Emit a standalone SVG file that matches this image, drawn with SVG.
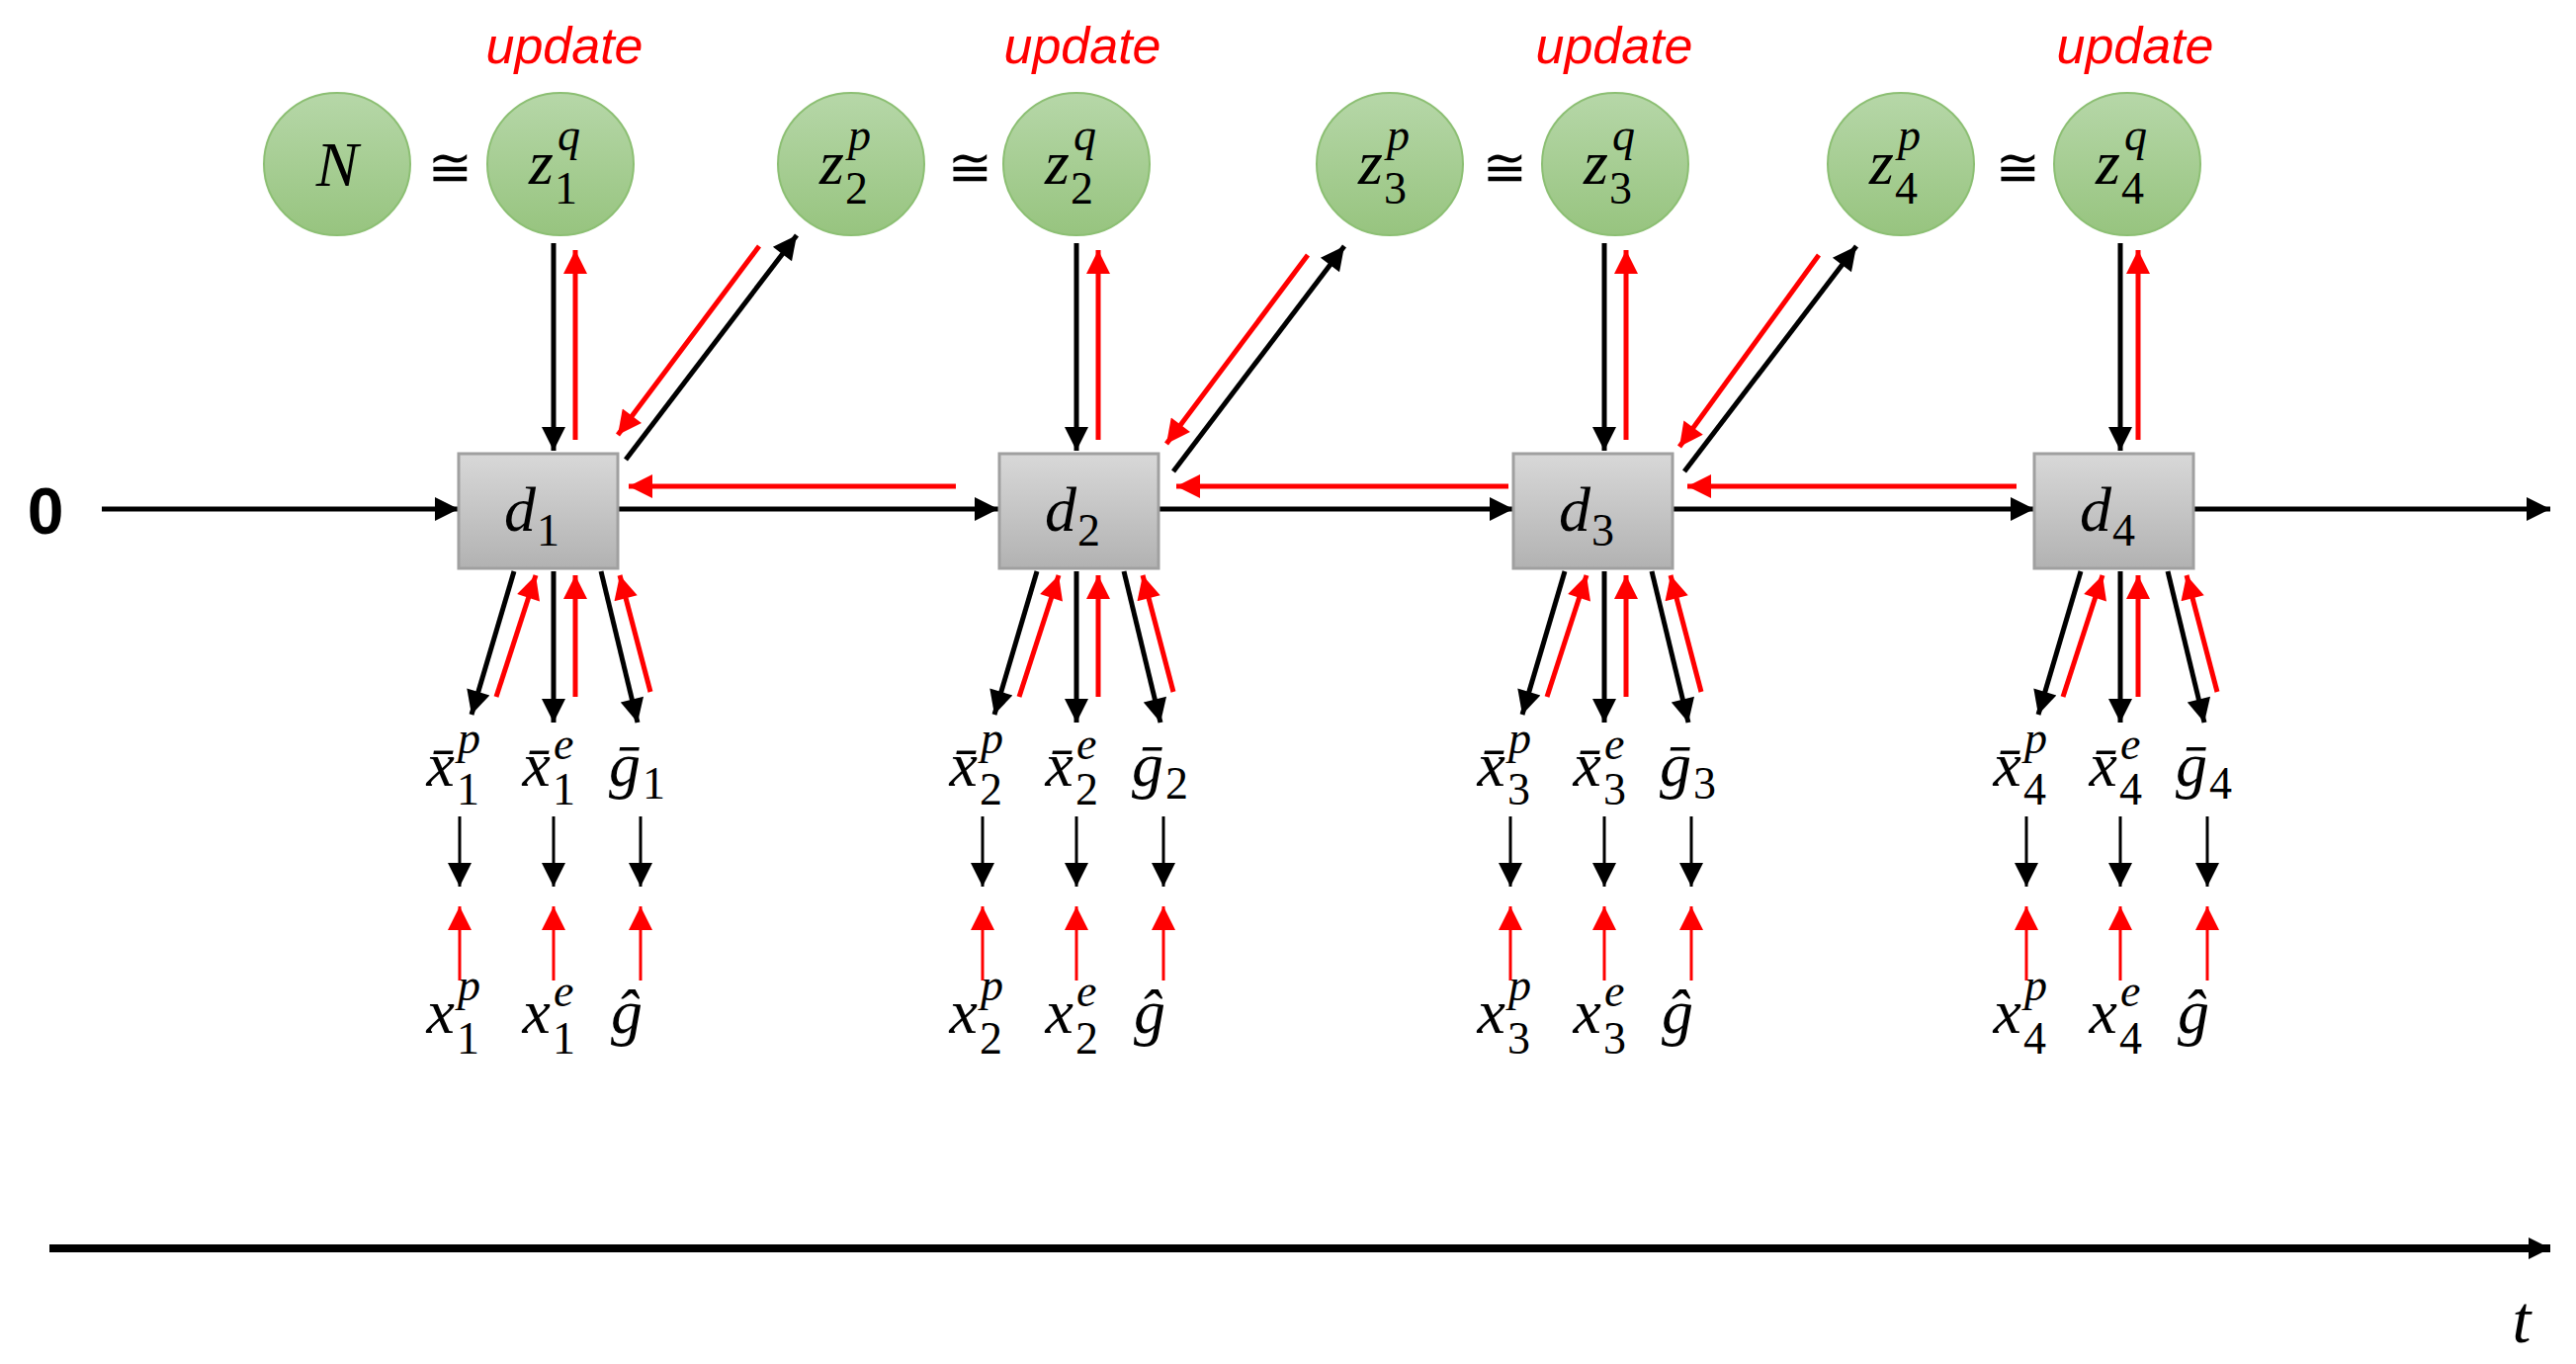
<svg xmlns="http://www.w3.org/2000/svg" width="2606" height="1380" viewBox="0 0 2606 1380">
<style>
.k{stroke:#000;stroke-width:5;fill:none}
.r{stroke:#f00;stroke-width:5;fill:none}
.ks{stroke:#000;stroke-width:3;fill:none}
.rs{stroke:#f00;stroke-width:3;fill:none}
.m{font-family:"Liberation Serif","DejaVu Serif",serif;font-style:italic;font-size:64px;fill:#000}
.s{font-family:"Liberation Serif","DejaVu Serif",serif;font-size:46px;fill:#000}
.si{font-family:"Liberation Serif","DejaVu Serif",serif;font-style:italic;font-size:46px;fill:#000}
.up{font-family:"Liberation Sans",Arial,sans-serif;font-style:italic;font-size:52px;fill:#f00}
.c{fill:url(#gc);stroke:#8cbf73;stroke-width:2}
.b{fill:url(#gb);stroke:#a0a0a0;stroke-width:3}
</style>
<defs>
<linearGradient id="gc" x1="0" y1="0" x2="0" y2="1"><stop offset="0" stop-color="#b6d7a8"/><stop offset="1" stop-color="#97c47f"/></linearGradient>
<linearGradient id="gb" x1="0" y1="0" x2="0" y2="1"><stop offset="0" stop-color="#d8d8d8"/><stop offset="1" stop-color="#b2b2b2"/></linearGradient>
<marker id="ak" viewBox="0 0 10 10" refX="10" refY="5" markerWidth="26" markerHeight="24" markerUnits="userSpaceOnUse" orient="auto"><path d="M0,0L10,5L0,10z" fill="#000"/></marker>
<marker id="ar" viewBox="0 0 10 10" refX="10" refY="5" markerWidth="26" markerHeight="24" markerUnits="userSpaceOnUse" orient="auto"><path d="M0,0L10,5L0,10z" fill="#f00"/></marker>
<marker id="aT" viewBox="0 0 10 10" refX="10" refY="5" markerWidth="30" markerHeight="22" markerUnits="userSpaceOnUse" orient="auto"><path d="M0,0L10,5L0,10z" fill="#000"/></marker>
</defs>

<g id="connectors">
<line class="k" x1="103" y1="515" x2="464" y2="515" marker-end="url(#ak)"/>
<line class="k" x1="625" y1="515" x2="1010" y2="515" marker-end="url(#ak)"/>
<line class="k" x1="1172" y1="515" x2="1531" y2="515" marker-end="url(#ak)"/>
<line class="k" x1="1692" y1="515" x2="2058" y2="515" marker-end="url(#ak)"/>
<line class="k" x1="2217" y1="515" x2="2580" y2="515" marker-end="url(#ak)"/>
<line class="r" x1="967" y1="492" x2="636" y2="492" marker-end="url(#ar)"/>
<line class="r" x1="1526" y1="492" x2="1190" y2="492" marker-end="url(#ar)"/>
<line class="r" x1="2040" y1="492" x2="1707" y2="492" marker-end="url(#ar)"/>
<line class="k" x1="633" y1="465" x2="806" y2="238" marker-end="url(#ak)"/>
<line class="r" x1="768" y1="249" x2="625" y2="440" marker-end="url(#ar)"/>
<line class="k" x1="1187" y1="477" x2="1360" y2="249" marker-end="url(#ak)"/>
<line class="r" x1="1323" y1="258" x2="1180" y2="449" marker-end="url(#ar)"/>
<line class="k" x1="1704" y1="477" x2="1878" y2="249" marker-end="url(#ak)"/>
<line class="r" x1="1840" y1="258" x2="1699" y2="452" marker-end="url(#ar)"/>
<line class="k" style="stroke-width:8" x1="50" y1="1263" x2="2580" y2="1263" marker-end="url(#aT)"/>
<g id="fans">
<g transform="translate(560,0)">
<line class="k" x1="0" y1="246" x2="0" y2="456" marker-end="url(#ak)"/><line class="r" x1="22" y1="445" x2="22" y2="253" marker-end="url(#ar)"/>
<line class="k" x1="-40" y1="578" x2="-83" y2="723" marker-end="url(#ak)"/><line class="r" x1="-58" y1="705" x2="-18" y2="582" marker-end="url(#ar)"/>
<line class="k" x1="0" y1="578" x2="0" y2="731" marker-end="url(#ak)"/><line class="r" x1="22" y1="705" x2="22" y2="582" marker-end="url(#ar)"/>
<line class="k" x1="48" y1="578" x2="85" y2="731" marker-end="url(#ak)"/><line class="r" x1="98" y1="700" x2="67" y2="582" marker-end="url(#ar)"/>
<line class="ks" x1="-95" y1="826" x2="-95" y2="897" marker-end="url(#ak)"/><line class="ks" x1="0" y1="826" x2="0" y2="897" marker-end="url(#ak)"/><line class="ks" x1="88" y1="826" x2="88" y2="897" marker-end="url(#ak)"/>
<line class="rs" x1="-95" y1="992" x2="-95" y2="917" marker-end="url(#ar)"/><line class="rs" x1="0" y1="992" x2="0" y2="917" marker-end="url(#ar)"/><line class="rs" x1="88" y1="992" x2="88" y2="917" marker-end="url(#ar)"/>
</g>
<g transform="translate(1089,0)">
<line class="k" x1="0" y1="246" x2="0" y2="456" marker-end="url(#ak)"/><line class="r" x1="22" y1="445" x2="22" y2="253" marker-end="url(#ar)"/>
<line class="k" x1="-40" y1="578" x2="-83" y2="723" marker-end="url(#ak)"/><line class="r" x1="-58" y1="705" x2="-18" y2="582" marker-end="url(#ar)"/>
<line class="k" x1="0" y1="578" x2="0" y2="731" marker-end="url(#ak)"/><line class="r" x1="22" y1="705" x2="22" y2="582" marker-end="url(#ar)"/>
<line class="k" x1="48" y1="578" x2="85" y2="731" marker-end="url(#ak)"/><line class="r" x1="98" y1="700" x2="67" y2="582" marker-end="url(#ar)"/>
<line class="ks" x1="-95" y1="826" x2="-95" y2="897" marker-end="url(#ak)"/><line class="ks" x1="0" y1="826" x2="0" y2="897" marker-end="url(#ak)"/><line class="ks" x1="88" y1="826" x2="88" y2="897" marker-end="url(#ak)"/>
<line class="rs" x1="-95" y1="992" x2="-95" y2="917" marker-end="url(#ar)"/><line class="rs" x1="0" y1="992" x2="0" y2="917" marker-end="url(#ar)"/><line class="rs" x1="88" y1="992" x2="88" y2="917" marker-end="url(#ar)"/>
</g>
<g transform="translate(1623,0)">
<line class="k" x1="0" y1="246" x2="0" y2="456" marker-end="url(#ak)"/><line class="r" x1="22" y1="445" x2="22" y2="253" marker-end="url(#ar)"/>
<line class="k" x1="-40" y1="578" x2="-83" y2="723" marker-end="url(#ak)"/><line class="r" x1="-58" y1="705" x2="-18" y2="582" marker-end="url(#ar)"/>
<line class="k" x1="0" y1="578" x2="0" y2="731" marker-end="url(#ak)"/><line class="r" x1="22" y1="705" x2="22" y2="582" marker-end="url(#ar)"/>
<line class="k" x1="48" y1="578" x2="85" y2="731" marker-end="url(#ak)"/><line class="r" x1="98" y1="700" x2="67" y2="582" marker-end="url(#ar)"/>
<line class="ks" x1="-95" y1="826" x2="-95" y2="897" marker-end="url(#ak)"/><line class="ks" x1="0" y1="826" x2="0" y2="897" marker-end="url(#ak)"/><line class="ks" x1="88" y1="826" x2="88" y2="897" marker-end="url(#ak)"/>
<line class="rs" x1="-95" y1="992" x2="-95" y2="917" marker-end="url(#ar)"/><line class="rs" x1="0" y1="992" x2="0" y2="917" marker-end="url(#ar)"/><line class="rs" x1="88" y1="992" x2="88" y2="917" marker-end="url(#ar)"/>
</g>
<g transform="translate(2145,0)">
<line class="k" x1="0" y1="246" x2="0" y2="456" marker-end="url(#ak)"/><line class="r" x1="18" y1="445" x2="18" y2="253" marker-end="url(#ar)"/>
<line class="k" x1="-40" y1="578" x2="-83" y2="723" marker-end="url(#ak)"/><line class="r" x1="-58" y1="705" x2="-18" y2="582" marker-end="url(#ar)"/>
<line class="k" x1="0" y1="578" x2="0" y2="731" marker-end="url(#ak)"/><line class="r" x1="18" y1="705" x2="18" y2="582" marker-end="url(#ar)"/>
<line class="k" x1="48" y1="578" x2="85" y2="731" marker-end="url(#ak)"/><line class="r" x1="98" y1="700" x2="67" y2="582" marker-end="url(#ar)"/>
<line class="ks" x1="-95" y1="826" x2="-95" y2="897" marker-end="url(#ak)"/><line class="ks" x1="0" y1="826" x2="0" y2="897" marker-end="url(#ak)"/><line class="ks" x1="88" y1="826" x2="88" y2="897" marker-end="url(#ak)"/>
<line class="rs" x1="-95" y1="992" x2="-95" y2="917" marker-end="url(#ar)"/><line class="rs" x1="0" y1="992" x2="0" y2="917" marker-end="url(#ar)"/><line class="rs" x1="88" y1="992" x2="88" y2="917" marker-end="url(#ar)"/>
</g>
</g>
</g>

<text x="46" y="540" text-anchor="middle" style="font-family:'Liberation Sans',Arial,sans-serif;font-weight:bold;font-size:66px">0</text>
<text x="2551" y="1358" text-anchor="middle" class="m" style="font-size:68px">t</text>

<g id="N"><ellipse class="c" cx="341" cy="166" rx="74" ry="72"/><text class="m" x="341" y="188" text-anchor="middle">N</text></g>
<g id="z1q"><ellipse class="c" cx="567" cy="166" rx="74" ry="72"/><text class="m" x="560" y="186" text-anchor="end">z</text><text class="si" x="564" y="152">q</text><text class="s" x="561" y="206">1</text></g>
<g id="z2p"><ellipse class="c" cx="861" cy="166" rx="74" ry="72"/><text class="m" x="854" y="186" text-anchor="end">z</text><text class="si" x="858" y="152">p</text><text class="s" x="855" y="206">2</text></g>
<g id="z2q"><ellipse class="c" cx="1089" cy="166" rx="74" ry="72"/><text class="m" x="1082" y="186" text-anchor="end">z</text><text class="si" x="1086" y="152">q</text><text class="s" x="1083" y="206">2</text></g>
<g id="z3p"><ellipse class="c" cx="1406" cy="166" rx="74" ry="72"/><text class="m" x="1399" y="186" text-anchor="end">z</text><text class="si" x="1403" y="152">p</text><text class="s" x="1400" y="206">3</text></g>
<g id="z3q"><ellipse class="c" cx="1634" cy="166" rx="74" ry="72"/><text class="m" x="1627" y="186" text-anchor="end">z</text><text class="si" x="1631" y="152">q</text><text class="s" x="1628" y="206">3</text></g>
<g id="z4p"><ellipse class="c" cx="1923" cy="166" rx="74" ry="72"/><text class="m" x="1916" y="186" text-anchor="end">z</text><text class="si" x="1920" y="152">p</text><text class="s" x="1917" y="206">4</text></g>
<g id="z4q"><ellipse class="c" cx="2152" cy="166" rx="74" ry="72"/><text class="m" x="2145" y="186" text-anchor="end">z</text><text class="si" x="2149" y="152">q</text><text class="s" x="2146" y="206">4</text></g>

<g id="cong" style="font-family:'DejaVu Sans',sans-serif;font-size:54px">
<text x="455" y="188" text-anchor="middle">≅</text><text x="981" y="188" text-anchor="middle">≅</text><text x="1522" y="188" text-anchor="middle">≅</text><text x="2041" y="188" text-anchor="middle">≅</text>
</g>
<g id="updates">
<text class="up" x="571" y="64" text-anchor="middle">update</text><text class="up" x="1095" y="64" text-anchor="middle">update</text><text class="up" x="1633" y="64" text-anchor="middle">update</text><text class="up" x="2160" y="64" text-anchor="middle">update</text>
</g>

<g id="d1"><rect class="b" x="464" y="459" width="161" height="116"/><text class="m" x="542" y="537" text-anchor="end">d</text><text class="s" x="543" y="552">1</text></g>
<g id="d2"><rect class="b" x="1011" y="459" width="161" height="116"/><text class="m" x="1089" y="537" text-anchor="end">d</text><text class="s" x="1090" y="552">2</text></g>
<g id="d3"><rect class="b" x="1531" y="459" width="161" height="116"/><text class="m" x="1609" y="537" text-anchor="end">d</text><text class="s" x="1610" y="552">3</text></g>
<g id="d4"><rect class="b" x="2058" y="459" width="161" height="116"/><text class="m" x="2136" y="537" text-anchor="end">d</text><text class="s" x="2137" y="552">4</text></g>

<g id="labels1" transform="translate(560,0)">
<text class="m" x="-100" y="795" text-anchor="end">x̄</text><text class="si" x="-97" y="762">p</text><text class="s" x="-98" y="814">1</text>
<text class="m" x="-3" y="795" text-anchor="end">x̄</text><text class="si" x="0" y="768">e</text><text class="s" x="-1" y="814">1</text>
<text class="m" x="88" y="795" text-anchor="end">ḡ</text><text class="s" x="90" y="808">1</text>
<text class="m" x="-100" y="1045" text-anchor="end">x</text><text class="si" x="-97" y="1012">p</text><text class="s" x="-98" y="1066">1</text>
<text class="m" x="-3" y="1045" text-anchor="end">x</text><text class="si" x="0" y="1018">e</text><text class="s" x="-1" y="1066">1</text>
<text class="m" x="74" y="1045" text-anchor="middle">ĝ</text>
</g>
<g id="labels2" transform="translate(1089,0)">
<text class="m" x="-100" y="795" text-anchor="end">x̄</text><text class="si" x="-97" y="762">p</text><text class="s" x="-98" y="814">2</text>
<text class="m" x="-3" y="795" text-anchor="end">x̄</text><text class="si" x="0" y="768">e</text><text class="s" x="-1" y="814">2</text>
<text class="m" x="88" y="795" text-anchor="end">ḡ</text><text class="s" x="90" y="808">2</text>
<text class="m" x="-100" y="1045" text-anchor="end">x</text><text class="si" x="-97" y="1012">p</text><text class="s" x="-98" y="1066">2</text>
<text class="m" x="-3" y="1045" text-anchor="end">x</text><text class="si" x="0" y="1018">e</text><text class="s" x="-1" y="1066">2</text>
<text class="m" x="74" y="1045" text-anchor="middle">ĝ</text>
</g>
<g id="labels3" transform="translate(1623,0)">
<text class="m" x="-100" y="795" text-anchor="end">x̄</text><text class="si" x="-97" y="762">p</text><text class="s" x="-98" y="814">3</text>
<text class="m" x="-3" y="795" text-anchor="end">x̄</text><text class="si" x="0" y="768">e</text><text class="s" x="-1" y="814">3</text>
<text class="m" x="88" y="795" text-anchor="end">ḡ</text><text class="s" x="90" y="808">3</text>
<text class="m" x="-100" y="1045" text-anchor="end">x</text><text class="si" x="-97" y="1012">p</text><text class="s" x="-98" y="1066">3</text>
<text class="m" x="-3" y="1045" text-anchor="end">x</text><text class="si" x="0" y="1018">e</text><text class="s" x="-1" y="1066">3</text>
<text class="m" x="74" y="1045" text-anchor="middle">ĝ</text>
</g>
<g id="labels4" transform="translate(2145,0)">
<text class="m" x="-100" y="795" text-anchor="end">x̄</text><text class="si" x="-97" y="762">p</text><text class="s" x="-98" y="814">4</text>
<text class="m" x="-3" y="795" text-anchor="end">x̄</text><text class="si" x="0" y="768">e</text><text class="s" x="-1" y="814">4</text>
<text class="m" x="88" y="795" text-anchor="end">ḡ</text><text class="s" x="90" y="808">4</text>
<text class="m" x="-100" y="1045" text-anchor="end">x</text><text class="si" x="-97" y="1012">p</text><text class="s" x="-98" y="1066">4</text>
<text class="m" x="-3" y="1045" text-anchor="end">x</text><text class="si" x="0" y="1018">e</text><text class="s" x="-1" y="1066">4</text>
<text class="m" x="74" y="1045" text-anchor="middle">ĝ</text>
</g>
</svg>
